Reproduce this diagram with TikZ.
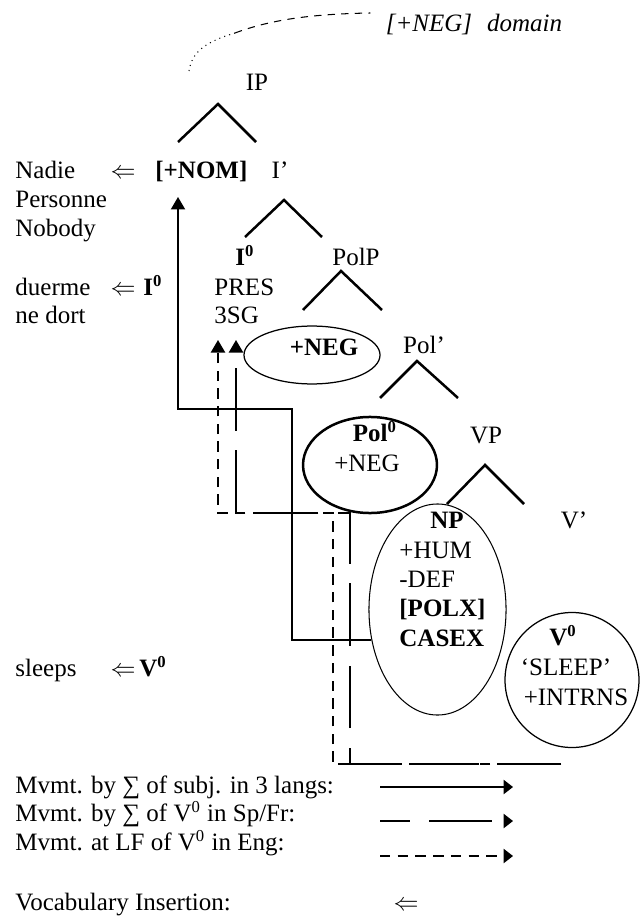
\documentclass[tikz,border=0pt]{standalone}
\usepackage{fontspec}
\setmainfont{Liberation Serif}
\usepackage{tikz}
\usetikzlibrary{calc,arrows.meta,shapes.geometric,positioning}

\tikzset{
  lbl/.style={inner sep=0pt, text height=8pt, text depth=0pt},
  branch/.style={line width=1.2pt},
  featell/.style={draw, ellipse, line width=0.6pt, inner sep=0pt},
  subjmv/.style={line width=0.8pt, -{Triangle[length=6pt,width=6.8pt]}},
  spfrmv/.style={subjmv, dash pattern=on 30pt off 9.5pt},
  engmv/.style={subjmv, dash pattern=on 5pt off 3.5pt},
  keytip/.style={-{Triangle[length=4.5pt,width=6.8pt]}},
}

\begin{document}
\begin{tikzpicture}[x=0.48pt, y=-0.48pt, font=\fontsize{12}{14}\selectfont]
    \useasboundingbox (0,0) rectangle (641,916);
    % [+NEG] domain, dotted then dashed
    \node[lbl] (domain) at (474,23) {\itshape [+NEG]\hspace{0.6em}domain};
    \coordinate (domtail) at (189,71);
    \coordinate (dommid) at (235,33);
    \draw[line width=0.5pt, dotted] (domtail) .. controls (192,52) and (205,42) .. (dommid);
    \draw[line width=0.5pt, dash pattern=on 3.5pt off 3pt] (dommid) .. controls (270,20) and (310,14) .. ($(domain.west)+(-15,-10)$);
    % left column: vocabulary insertion
    \node[lbl, anchor=west] (nadie) at (15,170) {Nadie};
    \node[lbl, anchor=west] (personne) at (15,199) {Personne};
    \node[lbl, anchor=west] (nobody) at (15,228) {Nobody};
    \node[lbl] (vinom) at (123,170) {$\Leftarrow$};
    \node[lbl, anchor=west] (duerme) at (15,287) {duerme};
    \node[lbl, anchor=west] (nedort) at (15,315) {ne dort};
    \node[lbl] (viinfl) at (123,287) {$\Leftarrow$};
    \node[lbl, anchor=west] (inflins) at (143,287) {\textbf{I\textsuperscript{0}}};
    \node[lbl, anchor=west] (sleeps) at (15,668) {sleeps};
    \node[lbl] (viverb) at (123,668) {$\Leftarrow$};
    \node[lbl, anchor=west] (verbins) at (139,668) {\textbf{V\textsuperscript{0}}};
    % tree
    \node[lbl] (ip) at (257,82) {IP};
    \draw[branch] (178,142) -- (218,104) -- (256,142);
    \node[lbl, anchor=west] (nom) at (155,170) {\textbf{[+NOM]}};
    \node[lbl] (ibar) at (280,170) {I’};
    \draw[branch] (245,237) -- (284,200) -- (322,237);
    \node[lbl] (infl) at (245,257) {\textbf{I\textsuperscript{0}}};
    \node[lbl, anchor=west] (pres) at (214,287) {PRES};
    \node[lbl, anchor=west] (sg) at (214,315) {3SG};
    \node[lbl] (polp) at (356,257) {PolP};
    \draw[branch] (303,310) -- (341,271) -- (382,310);
    \node[featell, minimum width=65.3pt, minimum height=27.8pt] (negspec) at (312,355) {};
    \node[lbl] (negtext) at (324,347) {\textbf{+NEG}};
    \node[lbl] (polbar) at (424,345) {Pol’};
    \draw[branch] (380,398) -- (417,361) -- (458,398);
    \node[featell, line width=1.2pt, minimum width=64.3pt, minimum height=46.1pt] (polhead) at (370,465) {};
    \node[lbl] (poltext) at (375,433) {\textbf{Pol\textsuperscript{0}}};
    \node[lbl] (polneg) at (367,463) {+NEG};
    \node[lbl] (vp) at (486,435) {VP};
    \draw[branch] (447,504) -- (485,465) -- (524,504);
    \node[featell, line width=0.5pt, minimum width=65.8pt, minimum height=101.3pt] (np) at (437.5,609.5) {};
    \node[lbl] (nptext) at (447,520) {\textbf{NP}};
    \node[lbl, anchor=west] (hum) at (399,550) {+HUM};
    \node[lbl, anchor=west] (def) at (399,579) {-DEF};
    \node[lbl, anchor=west] (polx) at (399,608) {\textbf{[POLX]}};
    \node[lbl, anchor=west] (casex) at (399,638) {\textbf{CASEX}};
    \node[lbl] (vbar) at (574,520) {V’};
    \node[featell, minimum width=64.3pt, minimum height=64.8pt] (vcirc) at (572,680) {};
    \node[lbl] (verb) at (563,637) {\textbf{V\textsuperscript{0}}};
    \node[lbl] (sleep) at (566,667) {‘SLEEP’};
    \node[lbl] (intrns) at (576,697) {+INTRNS};
    \draw[line width=0.8pt] ($(vbar.south west)+(0,9)$) -- ($(vbar.south west)+(0,9)$ |- vcirc.north);
    % movements
    \coordinate (subjtop) at (178,197);
    \coordinate (vfoot) at (561,764);
    \coordinate (engtop) at (218,340);
    \coordinate (spfrtop) at (236,340);
    \draw[subjmv] (np.205) -| (292,409) -| (subjtop);
    \draw[engmv] (vfoot) -| (333,513) -| (engtop);
    \draw[spfrmv] (vfoot) -| (350,513) -| (spfrtop);
    % key
    \node[lbl, anchor=west] (keysubj) at (15,785) {Mvmt. by ∑ of subj. in 3 langs:};
    \node[lbl, anchor=west] (keyspfr) at (15,813) {Mvmt. by ∑ of V\textsuperscript{0} in Sp/Fr:};
    \node[lbl, anchor=west] (keyeng) at (15,842) {Mvmt. at LF of V\textsuperscript{0} in Eng:};
    \node[lbl, anchor=west] (keyvoc) at (15,902) {Vocabulary Insertion:};
    \node[lbl] (keyvi) at (406,902) {$\Leftarrow$};
    \draw[subjmv, keytip] (380,787) -- (513,787);
    \draw[spfrmv, keytip, dash phase=15.8pt] (380,821) -- (513,821);
    \draw[engmv, keytip] (380,856) -- (513,856);
\end{tikzpicture}
\end{document}
